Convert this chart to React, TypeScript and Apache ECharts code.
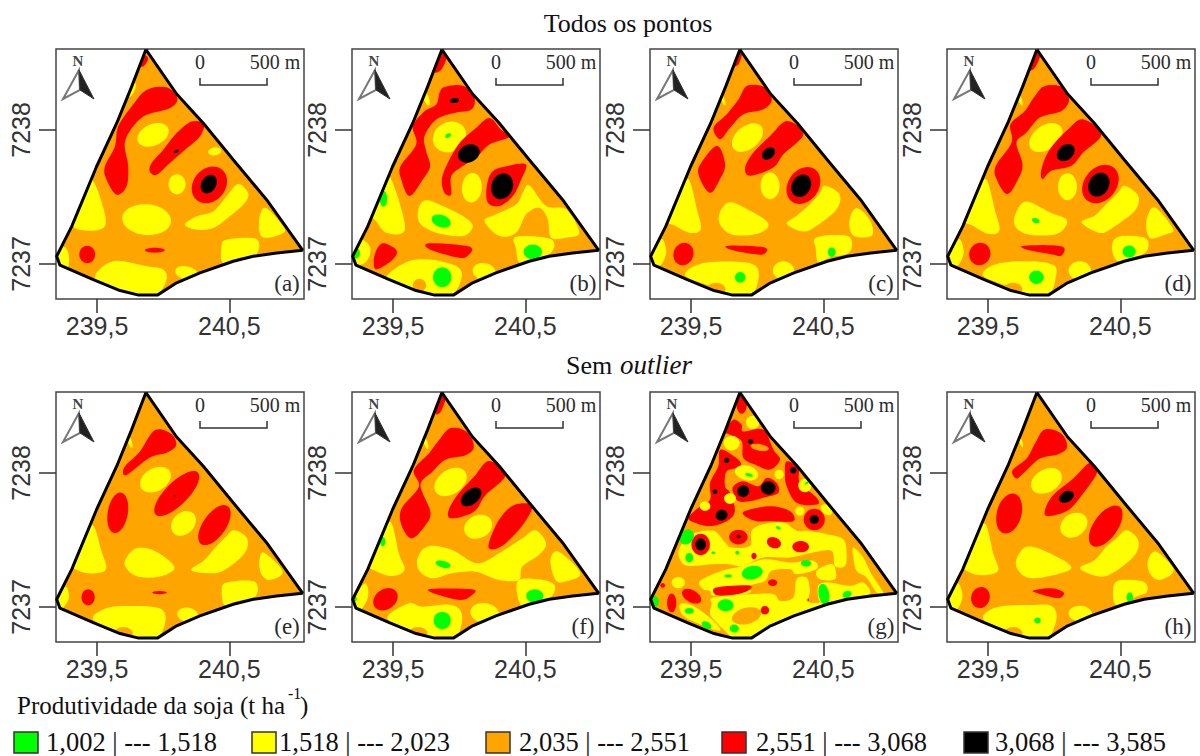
import React, { useEffect, useRef } from "react";
import * as echarts from "echarts";

const G = 0, Y = 1, O = 2, R = 3, K = 4;
const classColors = ["#00ff00", "#ffff00", "#ffa500", "#ff0000", "#000000"];
const classLabels = ["1,002 | --- 1,518", "1,518 | --- 2,023", "2,035 | --- 2,551", "2,551 | --- 3,068", "3,068 | --- 3,585"];
const xTicks = [239.5, 240.5];
const yTicks = [7237, 7238];
const panelLabels = ["(a)", "(b)", "(c)", "(d)", "(e)", "(f)", "(g)", "(h)"];
const X0 = 239, Y0 = 7237;

// Field boundary, km relative to (239, 7237)
const boundary = [
  [0.87, 1.6], [1.102, 1.268], [1.304, 1.05], [1.53, 0.777], [1.782, 0.479], [2.054, 0.102], [1.858, 0.082], [1.681, 0.057],
  [1.53, 0.02], [1.278, -0.067], [1.102, -0.141], [0.956, -0.233], [0.815, -0.233], [0.674, -0.199], [0.472, -0.117],
  [0.22, -0.01], [0.195, 0.057], [0.309, 0.28], [0.497, 0.727], [0.649, 1.05], [0.762, 1.323],
];

type Zone = { l: number; p?: number[][]; e?: number[] };
const E = (l: number, cx: number, cy: number, rx: number, ry: number, deg = 0): Zone => ({ l, e: [cx, cy, rx, ry, deg] });
const P = (l: number, ...c: number[]): Zone => {
  const p: number[][] = [];
  for (let i = 0; i < c.length; i += 2) p.push([c[i], c[i + 1]]);
  return { l, p };
};

const panelA = [
  P(R, .849, 1.558, .887, 1.533, .854, 1.476, .819, 1.484),
  P(R, .874, 1.298, 1.025, 1.318, 1.108, 1.236, 1.05, 1.161, .874, 1.112, .773, 1.025, .71, .901, .736, .727, .723, .578, .647, .516, .572, .628, .559, .727, .635, .876, .66, 1.025, .761, 1.174),
  E(Y, .924, .963, .125, .08, 25),
  E(Y, .76, 1.3, .06, .025, 65),
  P(R, 1.214, 1.062, 1.307, 1.045, 1.277, .95, 1.164, .851, 1.05, .752, .95, .665, .899, .69, .912, .752, 1.0, .851, 1.1, .975),
  E(K, 1.1, .84, .02, .01, 30),
  E(Y, 1.39, .84, .05, .03, 10),
  E(R, 1.35, .59, .15, .12, 50),
  E(K, 1.345, .595, .075, .055, 60),
  E(Y, 1.105, .595, .065, .075),
  P(Y, 1.642, .528, 1.617, .454, 1.504, .355, 1.378, .268, 1.252, .256, 1.164, .293, 1.252, .355, 1.378, .392, 1.479, .504, 1.567, .596),
  E(Y, .875, .33, .185, .115, -5),
  P(Y, .466, .628, .521, .504, .567, .318, .521, .256, .395, .251, .32, .28, .27, .38, .4, .7),
  P(Y, 1.78, .417, 1.907, .28, 1.907, .23, 1.78, .194, 1.73, .23, 1.73, .355),
  P(Y, 1.479, .181, 1.705, .186, 1.705, .07, 1.58, .045, 1.453, .007, 1.44, .119),
  P(Y, .622, .02, .874, -.017, 1.0, -.042, 1.025, -.117, .95, -.24, .82, -.24, .67, -.19, .484, -.104),
  E(Y, 1.18, -.07, .09, .05, -15),
  E(Y, .24, .03, .05, .1),
  E(R, .426, .07, .06, .065),
  E(R, .937, .102, .075, .018),
];

const panelB = [
  P(R, .864, 1.586, .907, 1.548, .864, 1.45, .814, 1.437),
  P(R, .889, 1.32, 1.028, 1.33, 1.116, 1.238, 1.09, 1.151, .965, 1.127, .826, 1.077, .738, .953, .751, .841, .781, .73, .725, .63, .625, .506, .562, .63, .557, .73, .675, .891, .65, 1.027, .738, 1.139, .826, 1.189, .851, 1.275),
  E(K, .965, 1.22, .035, .018, 10),
  E(Y, .927, .948, .13, .11, 30),
  E(G, .917, .958, .025, .015, 30),
  P(R, 1.229, 1.089, 1.317, 1.002, 1.38, .948, 1.229, .891, 1.128, .792, 1.028, .73, .94, .655, .94, .519, .889, .531, .869, .63, .914, .754, 1.003, .903, 1.128, 1.015),
  E(K, 1.073, .824, .085, .065, 25),
  P(R, 1.506, .742, 1.469, .63, 1.406, .506, 1.305, .432, 1.217, .457, 1.209, .581, 1.254, .692, 1.38, .734),
  E(K, 1.325, .58, .1, .08, 70),
  E(Y, 1.096, .568, .075, .11, -5),
  P(Y, 1.531, .586, 1.657, .432, 1.809, .407, 1.909, .233, 1.809, .196, 1.695, .196, 1.67, .332, 1.607, .419, 1.506, .37, 1.431, .233, 1.305, .208, 1.191, .32, 1.28, .37, 1.431, .444, 1.481, .531),
  P(Y, 1.431, .203, 1.695, .184, 1.695, .084, 1.557, .035, 1.456, .01, 1.431, .109),
  E(G, 1.557, .09, .07, .055),
  P(Y, .751, .476, .877, .432, 1.028, .357, 1.103, .283, 1.028, .208, .826, .233, .7, .308, .695, .419),
  E(G, .864, .32, .075, .045, -20),
  P(Y, .474, .655, .549, .457, .587, .246, .448, .233, .36, .332, .27, .407, .423, .655),
  E(G, .428, .486, .028, .06),
  P(Y, .247, .184, .322, .134, .322, .06, .272, -.002, .196, .01, .171, .084),
  E(G, .215, .08, .035, .04),
  P(R, .436, .154, .529, .097, .486, .022, .373, -.04, .355, .035, .385, .122),
  P(R, .776, .154, 1.078, .129, 1.065, .06, .99, .047, .776, .109),
  P(Y, .448, -.102, .625, .022, .851, .022, 1.015, -.052, .965, -.213, .814, -.238, .6, -.164),
  E(O, .7, -.16, .05, .05),
  E(G, .872, -.1, .07, .075),
  E(Y, 1.191, -.06, .09, .065, -15),
  E(Y, .75, 1.24, .02, .06, 20),
];

const panelC = [
  P(R, .859, 1.576, .884, 1.563, .859, 1.489, .821, 1.481),
  P(R, .922, 1.328, 1.048, 1.323, 1.111, 1.228, 1.048, 1.154, .897, 1.117, .796, 1.017, .72, .93, .67, 1.017, .77, 1.117, .859, 1.228),
  E(Y, .927, .943, .135, .085, 40),
  P(R, 1.224, 1.067, 1.35, .968, 1.199, .819, 1.123, .72, .947, .658, .909, .72, .972, .831, 1.098, .955),
  E(K, 1.086, .824, .055, .04, 40),
  P(R, .695, .881, .758, .744, .72, .633, .645, .529, .569, .633, .564, .732),
  E(R, 1.35, .585, .15, .115, 55),
  E(K, 1.333, .583, .09, .07, 60),
  E(Y, 1.098, .583, .072, .1),
  P(Y, 1.514, .583, 1.622, .521, 1.602, .409, 1.451, .285, 1.35, .241, 1.224, .298, 1.3, .36, 1.401, .447, 1.476, .533),
  P(Y, .783, .459, .947, .397, 1.086, .298, .997, .223, .796, .223, .708, .335),
  P(Y, .481, .633, .544, .409, .574, .261, .494, .231, .38, .285, .305, .335, .406, .509),
  P(Y, 1.753, .417, 1.854, .323, 1.866, .211, 1.728, .211, 1.698, .323),
  P(Y, 1.451, .199, 1.69, .206, 1.698, .087, 1.551, .05, 1.463, .012, 1.443, .112),
  E(G, 1.564, .087, .03, .035),
  P(Y, .28, .186, .312, .087, .267, -.012, .191, .012, .217, .087),
  E(R, .443, .074, .075, .085, -20),
  P(R, .783, .136, 1.053, .124, 1.053, .074, .972, .074, .796, .107),
  P(Y, .569, 0, .821, .017, .985, -.012, 1.01, -.112, .96, -.223, .821, -.236, .67, -.174, .456, -.087),
  E(O, .69, -.19, .07, .05),
  E(G, .872, -.1, .04, .04),
  E(Y, 1.199, -.05, .08, .07),
  E(Y, .74, 1.23, .012, .05, 20),
];

const panelD = [
  P(R, .866, 1.588, .897, 1.563, .854, 1.464, .811, 1.452),
  P(R, .929, 1.328, 1.055, 1.323, 1.113, 1.228, 1.055, 1.141, .892, 1.092, .791, .98, .715, .906, .761, .744, .728, .633, .645, .521, .564, .633, .559, .732, .678, .906, .67, 1.042, .778, 1.141, .854, 1.253),
  E(Y, .937, .943, .14, .09, 35),
  P(R, 1.219, 1.079, 1.358, .968, 1.219, .831, 1.131, .732, .98, .695, .912, .633, .904, .707, .967, .856, 1.106, 1.005),
  E(K, 1.088, .831, .075, .055, 40),
  E(R, 1.35, .596, .16, .12, 50),
  E(K, 1.338, .591, .095, .075, 60),
  E(Y, 1.101, .576, .072, .1),
  P(Y, 1.534, .583, 1.635, .509, 1.61, .397, 1.446, .273, 1.345, .231, 1.207, .31, 1.307, .36, 1.395, .447, 1.484, .533),
  P(Y, .778, .464, .967, .385, 1.098, .323, 1.018, .223, .791, .223, .695, .313),
  E(G, .861, .323, .03, .018, -20),
  P(Y, .485, .633, .55, .409, .586, .25, .5, .225, .385, .285, .305, .335, .41, .509),
  P(Y, 1.761, .422, 1.899, .261, 1.849, .223, 1.723, .194, 1.698, .323),
  P(Y, 1.458, .186, 1.547, .211, 1.698, .186, 1.693, .087, 1.547, .037, 1.471, .025, 1.438, .112),
  E(G, 1.567, .092, .05, .045),
  P(Y, .283, .186, .316, .087, .27, -.012, .195, .012, .22, .087),
  E(R, .438, .074, .08, .085, -20),
  P(R, .771, .136, 1.055, .132, 1.055, .062, .967, .074, .791, .107),
  P(Y, .565, 0, .82, .02, 1.0, -.012, 1.01, -.11, .965, -.223, .826, -.236, .67, -.174, .461, -.087),
  E(O, .69, -.19, .07, .05),
  E(G, .866, -.1, .055, .05),
  E(Y, 1.194, -.05, .085, .07),
  E(Y, .74, 1.23, .015, .05, 20),
];

const panelE = [
  P(R, .935, 1.318, 1.06, 1.293, 1.098, 1.206, 1.023, 1.149, .897, 1.114, .72, .983, .708, 1.045, .821, 1.156),
  E(Y, .942, .95, .125, .085, 30),
  E(R, 1.103, .846, .225, .085, 45),
  E(K, 1.09, .83, .006, .006),
  E(R, .657, .702, .155, .075, 80),
  E(Y, 1.154, .623, .105, .08, 45),
  E(R, 1.388, .61, .175, .085, 55),
  P(Y, 1.539, .573, 1.635, .511, 1.615, .4, 1.463, .275, 1.35, .251, 1.211, .275, 1.312, .35, 1.4, .449, 1.476, .524),
  P(Y, .796, .437, .947, .412, 1.086, .295, .972, .226, .796, .231, .708, .325),
  P(Y, .469, .61, .531, .424, .569, .288, .494, .251, .38, .263, .305, .325, .393, .499),
  P(Y, 1.766, .404, 1.904, .263, 1.803, .201, 1.74, .251, 1.728, .35),
  P(Y, 1.476, .181, 1.69, .189, 1.698, .077, 1.551, .04, 1.463, .015, 1.443, .114),
  P(Y, .267, .151, .287, .065, .229, -.022, .191, .002, .229, .102),
  E(R, .433, .072, .05, .06),
  E(R, .972, .107, .055, .012),
  P(Y, .569, -.01, .746, .007, .972, -.01, 1.018, -.097, .96, -.233, .821, -.246, .67, -.184, .469, -.092),
  E(O, .7, -.2, .07, .05),
  E(Y, 1.186, -.06, .08, .055, -10),
  E(Y, .745, 1.24, .015, .055, 20),
];

const panelF = [
  P(R, .864, 1.571, .897, 1.553, .859, 1.454, .821, 1.447),
  P(R, .935, 1.335, 1.06, 1.305, 1.111, 1.194, 1.048, 1.132, .897, 1.099, .796, 1.007, .708, .908, .783, .71, .745, .61, .64, .511, .564, .61, .564, .734, .695, .896, .657, 1.02, .77, 1.144, .846, 1.243),
  E(Y, .935, .933, .135, .09, 35),
  P(R, 1.224, 1.089, 1.35, .983, 1.199, .834, 1.111, .71, .947, .66, .917, .71, .985, .834, 1.111, .97),
  E(K, 1.091, .821, .09, .055, 40),
  E(Y, 1.144, .598, .11, .085, 25),
  P(R, 1.413, .759, 1.552, .759, 1.489, .623, 1.35, .474, 1.249, .429, 1.224, .474, 1.3, .648),
  P(Y, .771, .454, .947, .424, 1.136, .325, 1.3, .4, 1.476, .511, 1.577, .573, 1.657, .474, 1.602, .387, 1.476, .3, 1.451, .201, 1.3, .201, 1.123, .263, .947, .251, .796, .213, .695, .275, .69, .375),
  E(G, .879, .318, .058, .025, -15),
  P(Y, .481, .635, .544, .4, .587, .275, .494, .231, .38, .263, .305, .325, .393, .499),
  E(G, .423, .486, .02, .035),
  P(Y, 1.753, .412, 1.917, .251, 1.803, .189, 1.728, .201, 1.69, .35),
  P(Y, 1.451, .201, 1.703, .181, 1.698, .077, 1.551, .027, 1.463, .015),
  E(G, 1.572, .082, .065, .05),
  P(Y, .292, .176, .312, .077, .254, -.022, .191, .002, .229, .102),
  E(G, .212, .06, .015, .02),
  E(R, .443, .057, .1, .075, 35),
  P(R, .783, .134, 1.098, .132, 1.098, .089, 1.01, .052, .821, .097),
  P(Y, .62, .027, .72, .002, .947, .015, 1.023, -.072, .972, -.233, .821, -.246, .67, -.184, .456, -.084),
  E(O, .69, -.2, .07, .05),
  E(G, .872, -.102, .065, .065),
  E(Y, 1.194, -.047, .11, .075, -10),
  E(Y, .745, 1.23, .015, .055, 20),
];

const panelG = [
  // large yellow areas
  P(Y, .505, .543, .669, .568, .757, .48, .807, .443, .946, .456, .958, .568, 1.046, .617, 1.198, .63, 1.298, .568, 1.374, .568, 1.525, .543, 1.651, .505, 1.676, .406, 1.664, .306, 1.588, .306, 1.563, .418, 1.424, .406, 1.248, .369, 1.046, .369, .895, .306, .782, .319, .669, .319, .517, .306, .442, .319, .404, .394, .429, .468),
  P(Y, .568, .194, .732, .269, .895, .306, 1.059, .356, 1.248, .331, 1.424, .344, 1.449, .282, 1.298, .244, 1.248, .282, 1.109, .269, 1.059, .194, .946, .157, .946, .107, .82, .083, .669, .083, .643, .12, .593, .132),
  P(Y, .669, .07, .946, .095, 1.122, .095, 1.172, .045, 1.273, .07, 1.298, .207, 1.374, .219, 1.399, .132, 1.399, .033, 1.55, .04, 1.374, -.03, 1.198, -.104, 1.046, -.184, .946, -.233, .82, -.228, .744, -.166, .681, -.104, .643, -.054, .656, .02),
  E(O, .92, -.067, .113, .06, 15),
  P(Y, .417, .02, .517, .008, .669, -.104, .719, -.179, .568, -.129, .442, -.067),
  P(Y, 1.727, .443, 1.802, .369, 1.865, .244, 1.953, .107, 1.903, .107, 1.827, .219, 1.752, .269, 1.727, .369),
  P(Y, 1.538, .182, 1.701, .157, 1.802, .182, 1.852, .095, 1.676, .07, 1.575, .04, 1.475, .04, 1.462, .157),
  P(Y, 1.449, .269, 1.55, .319, 1.588, .294, 1.588, .207, 1.475, .207),
  E(Y, .404, .182, .05, .042),
  // red network
  E(R, .883, 1.516, .04, .075),
  P(R, .82, 1.397, .883, 1.36, .895, 1.31, 1.047, 1.323, 1.122, 1.174, 1.173, 1.099, 1.097, 1.025, .984, 1.062, .895, 1.112, .883, 1.236, .795, 1.285, .757, 1.31),
  P(R, .724, 1.174, .858, 1.099, .87, 1.045, .77, 1.012, .757, .901, .795, .851, .832, .715, .77, .64, .644, .603, .53, .628, .48, .665, .555, .739, .644, .801, .644, .926, .706, 1.05),
  P(R, .82, .901, .895, .938, 1.009, .901, 1.072, .963, 1.147, .926, 1.16, .851, 1.047, .814, .946, .789, .858, .789, .82, .851),
  P(R, 1.223, 1.087, 1.311, 1.037, 1.324, .926, 1.45, .814, 1.45, .764, 1.298, .777, 1.223, .901, 1.21, .995),
  P(R, .908, .715, 1.097, .752, 1.248, .715, 1.273, .64, 1.097, .64, .996, .64, .908, .677),
  E(R, 1.432, .653, .08, .08),
  E(R, .573, .466, .07, .08),
  E(R, .858, .521, .07, .055),
  E(R, 1.127, .479, .055, .04, -20),
  E(R, 1.329, .449, .063, .042),
  P(R, .689, .144, .933, .161, .941, .127, .845, .094, .694, .087),
  E(R, .505, .08, .08, .045, -30),
  E(R, .354, .03, .035, .07),
  E(R, 1.059, -.025, .032, .032),
  E(R, 1.117, .181, .035, .025),
  E(R, .976, .38, .02, .025),
  E(R, .286, .161, .018, .018),
  E(R, 1.386, .052, .006, .012),
  // yellow patches within the reds
  E(Y, 1.361, .906, .05, .05),
  E(Y, .606, .752, .04, .035),
  E(Y, .795, .809, .045, .04),
  E(Y, .966, 1.377, .05, .05),
  E(Y, .807, 1.223, .06, .055),
  E(Y, .92, 1.0, .09, .055, -15),
  E(O, 1.02, 1.19, .07, .025, -10),
  E(Y, 1.166, .988, .035, .035),
  E(Y, 1.323, .715, .035, .035),
  E(Y, 1.525, .725, .05, .035, -40),
  // greens
  E(G, 1.375, .925, .018, .008, 40),
  E(G, .94, .985, .03, .012, -15),
  E(G, 1.16, .59, .02, .01, -20),
  E(G, .468, .521, .05, .06, -40),
  E(G, .487, .367, .03, .035),
  E(G, .669, .404, .015, .01),
  E(G, .85, .404, .015, .015),
  E(G, .963, .256, .08, .05, 10),
  E(G, .782, .231, .028, .012),
  E(G, .762, .012, .06, .045),
  E(G, .487, -.03, .035, .022),
  E(G, .618, -.136, .04, .025, -30),
  E(G, .827, -.161, .035, .03),
  E(G, 1.37, .325, .04, .025),
  E(G, 1.505, .094, .04, .08, 10),
  E(G, 1.68, .094, .035, .025, 20),
  E(G, .228, .04, .03, .04),
  // blacks
  E(K, 1.432, .653, .035, .033),
  E(K, .573, .466, .04, .045),
  E(K, .86, .525, .015, .012),
  E(K, .732, .685, .045, .04, 20),
  E(K, .895, .864, .045, .045, -30),
  E(K, 1.084, .888, .055, .05),
  E(K, 1.273, 1.02, .025, .025),
  E(K, .77, 1.094, .02, .02),
  E(K, .95, 1.236, .02, .018),
  E(K, .681, .861, .018, .018),
];

const panelH = [
  P(R, .929, 1.325, 1.055, 1.293, 1.098, 1.194, 1.03, 1.139, .892, 1.107, .778, 1.007, .715, .958, .685, 1.02, .791, 1.107, .854, 1.218),
  E(Y, .942, .94, .125, .085, 30),
  P(R, 1.27, 1.077, 1.325, 1.007, 1.219, .846, 1.106, .722, .955, .677, .93, .722, .992, .834, 1.144, .958),
  E(K, 1.093, .821, .06, .04, 30),
  E(R, .66, .697, .155, .092, 75),
  E(Y, 1.149, .61, .11, .085, 35),
  E(R, 1.39, .603, .18, .09, 55),
  P(Y, 1.547, .573, 1.635, .499, 1.61, .387, 1.458, .263, 1.345, .226, 1.194, .288, 1.307, .35, 1.395, .449, 1.471, .511),
  P(Y, .791, .449, .967, .4, 1.131, .293, .967, .231, .791, .221, .71, .325),
  P(Y, .476, .623, .539, .4, .577, .275, .489, .238, .375, .251, .3, .325, .388, .499),
  P(Y, 1.773, .412, 1.904, .275, 1.799, .201, 1.723, .251, 1.71, .35),
  P(Y, 1.484, .196, 1.673, .189, 1.703, .114, 1.622, .077, 1.471, .015, 1.446, .114),
  E(G, 1.572, .072, .025, .035),
  P(Y, .275, .176, .307, .077, .262, -.022, .199, .002, .224, .102),
  E(R, .443, .07, .07, .08, -20),
  P(R, .841, .122, .98, .139, 1.073, .107, 1.03, .065, .892, .097),
  P(Y, .564, -.002, .841, .015, .98, .007, 1.018, -.084, .955, -.233, .816, -.246, .665, -.184, .464, -.092),
  E(O, .69, -.2, .07, .05),
  E(G, .874, -.102, .025, .022),
  E(Y, 1.199, -.052, .09, .06, -5),
  E(Y, .745, 1.24, .012, .05, 20),
];

const panels = [panelA, panelB, panelC, panelD, panelE, panelF, panelG, panelH];
const frameLeft = [56, 352, 650, 947, 56, 352, 650, 947];
const frameTop = [49, 49, 49, 49, 392, 392, 392, 392];
const FW = 248, FH = 250;
const serif = "'Liberation Serif', 'Times New Roman', serif";
const sans = "'Liberation Sans', Arial, sans-serif";
const inkText = "#2b2b2b";

// closed Catmull-Rom outline through the read points
function outline(pts: number[][]) {
  const out: number[][] = [];
  const n = pts.length;
  for (let i = 0; i < n; i++) {
    const a = pts[(i - 1 + n) % n], b = pts[i], c = pts[(i + 1) % n], d = pts[(i + 2) % n];
    for (let k = 0; k < 8; k++) {
      const t = k / 8, t2 = t * t, t3 = t2 * t;
      out.push([0, 1].map((j) => 0.5 * (2 * b[j] + (c[j] - a[j]) * t + (2 * a[j] - 5 * b[j] + 4 * c[j] - d[j]) * t2 + (3 * b[j] - a[j] - 3 * c[j] + d[j]) * t3)));
    }
  }
  return out;
}

function buildOption() {
  const grid: any[] = [], xAxis: any[] = [], yAxis: any[] = [], series: any[] = [], graphic: any[] = [];
  panels.forEach((zones, i) => {
    const L = frameLeft[i], T = frameTop[i];
    grid.push({ left: L, top: T, width: FW, height: FH, show: true, borderColor: "#444", borderWidth: 1.5, backgroundColor: "#fff" });
    xAxis.push({
      type: "value", gridIndex: i, min: 239.19, max: 241.065, splitLine: { show: false }, axisLine: { show: false },
      axisTick: { show: true, length: 14, customValues: xTicks, lineStyle: { color: "#333", width: 1.5 } },
      axisLabel: { show: true, customValues: xTicks, margin: 14, fontSize: 25, fontFamily: sans, color: "#333", formatter: (v: number) => String(v).replace(".", ",") },
    });
    yAxis.push({
      type: "value", gridIndex: i, min: 7236.738, max: 7238.604, splitLine: { show: false }, axisLine: { show: false },
      axisTick: { show: true, length: 17, customValues: yTicks, lineStyle: { color: "#333", width: 1.5 } },
      axisLabel: { show: true, customValues: yTicks, margin: 23, rotate: 90, fontSize: 25, fontFamily: sans, color: "#333", formatter: (v: number) => String(v) },
    });
    series.push({
      type: "custom", name: "campo" + i, xAxisIndex: i, yAxisIndex: i, silent: true, z: 2,
      data: [[X0 + boundary[0][0], Y0 + boundary[0][1]]],
      renderItem: (_p: any, api: any) => ({
        type: "polygon",
        shape: { points: boundary.map((b) => api.coord([X0 + b[0], Y0 + b[1]])) },
        style: { fill: classColors[O] },
      }),
    });
    series.push({
      type: "custom", name: panelLabels[i], xAxisIndex: i, yAxisIndex: i, silent: true, z: 3,
      data: zones.map((z: Zone) => (z.e ? [X0 + z.e[0], Y0 + z.e[1]] : [X0 + z.p![0][0], Y0 + z.p![0][1]])),
      renderItem: (params: any, api: any) => {
        const z: Zone = zones[params.dataIndex];
        const c = (q: number[]) => api.coord([X0 + q[0], Y0 + q[1]]);
        const fill = classColors[z.l];
        let child: any;
        if (z.p) {
          child = { type: "polygon", shape: { points: outline(z.p).map(c) }, style: { fill } };
        } else {
          const [cx, cy, rx, ry, deg] = z.e!;
          const ctr = c([cx, cy]);
          const sz = api.size([1, 1]);
          child = {
            type: "ellipse", x: ctr[0], y: ctr[1], rotation: (deg * Math.PI) / 180,
            shape: { cx: 0, cy: 0, rx: rx * sz[0], ry: ry * sz[1] }, style: { fill },
          };
        }
        return { type: "group", clipPath: { type: "polygon", shape: { points: boundary.map(c) } }, children: [child] };
      },
    });
    series.push({
      type: "line", name: "limite" + i, xAxisIndex: i, yAxisIndex: i, silent: true, z: 4, showSymbol: false, symbol: "none",
      data: [...boundary, boundary[0]].map((b) => [X0 + b[0], Y0 + b[1]]),
      lineStyle: { color: "#000", width: 3 },
    });
    const t = (text: string, x: number, y: number, size: number, extra: any = {}) => ({
      type: "text", x, y, z: 10, style: { text, fontFamily: serif, fontSize: size, fill: inkText, textAlign: "center", textVerticalAlign: "middle", ...extra },
    });
    graphic.push(
      t("N", L + 22, T + 12, 15, { fontWeight: "bold", fill: "#444" }),
      { type: "polygon", z: 10, shape: { points: [[L + 23, T + 21], [L + 7, T + 50], [L + 24, T + 41]] }, style: { fill: "#fff", stroke: "#777", lineWidth: 2 } },
      { type: "polygon", z: 10, shape: { points: [[L + 23, T + 21], [L + 24, T + 41], [L + 38, T + 50]] }, style: { fill: "#222", stroke: "#333", lineWidth: 1 } },
      t("0", L + 144, T + 13, 20),
      t("500 m", L + 219, T + 13, 20),
      { type: "polyline", z: 10, shape: { points: [[L + 144, T + 29], [L + 144, T + 36], [L + 211, T + 36], [L + 211, T + 29]] }, style: { stroke: "#333", lineWidth: 1.5, fill: "none" } },
      t(panelLabels[i], L + 231, T + 234, 23),
    );
  });

  const tt = (text: string, x: number, y: number, size: number, extra: any = {}) => ({
    type: "text", x, y, z: 10, style: { text, fontFamily: serif, fontSize: size, fill: "#111", textAlign: "center", textVerticalAlign: "middle", ...extra },
  });
  graphic.push(tt("Todos os pontos", 628, 23, 26));
  graphic.push(tt("Sem ", 566, 365, 26, { textAlign: "left" }));
  graphic.push(tt("outlier", 620, 365, 27, { textAlign: "left", fontStyle: "italic" }));
  graphic.push(tt("Produtividade da soja (t ha", 17, 705, 25, { textAlign: "left" }));
  graphic.push(tt("-1", 288, 693, 16, { textAlign: "left" }));
  graphic.push(tt(")", 300, 705, 25, { textAlign: "left" }));
  const lx = [14, 252, 486, 722, 964], tx = [46, 279, 519, 756, 995];
  classLabels.forEach((s, i) => {
    graphic.push({ type: "rect", z: 10, shape: { x: lx[i], y: 732, width: 24, height: 21 }, style: { fill: classColors[i], stroke: "#333", lineWidth: 1.5 } });
    graphic.push(tt(s, tx[i], 742, 26.5, { textAlign: "left" }));
  });
  return { animation: false, backgroundColor: "#fff", grid, xAxis, yAxis, series, graphic };
}

export default function App() {
  const ref = useRef<HTMLDivElement>(null);
  useEffect(() => {
    const chart = echarts.init(ref.current!, undefined, { renderer: "svg" });
    chart.setOption(buildOption() as any);
    return () => chart.dispose();
  }, []);
  return <div ref={ref} style={{ position: "fixed", left: 0, top: 0, width: 1200, height: 756 }} />;
}
